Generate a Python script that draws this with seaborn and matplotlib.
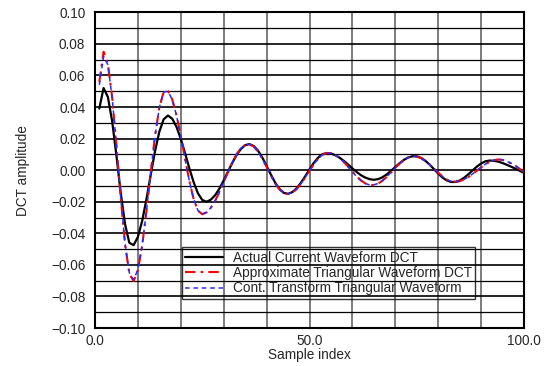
import matplotlib
matplotlib.use("Agg")
import matplotlib.pyplot as plt
import seaborn as sns
import pandas as pd
from matplotlib.ticker import MultipleLocator

# ---------------- data ----------------
sample_index = list(range(1, 101))

actual_current = [
    0.0390, 0.0520, 0.0464, 0.0310, 0.0091, -0.0144, -0.0342, -0.0460, -0.0475, -0.0423,
    -0.0321, -0.0183, -0.0028, 0.0121, 0.0244, 0.0322, 0.0346, 0.0326, 0.0274, 0.0198,
    0.0107, 0.0011, -0.0077, -0.0147, -0.0189, -0.0200, -0.0187, -0.0159, -0.0117, -0.0065,
    -0.0009, 0.0046, 0.0096, 0.0134, 0.0158, 0.0165, 0.0153, 0.0124, 0.0080, 0.0027,
    -0.0028, -0.0079, -0.0119, -0.0144, -0.0150, -0.0139, -0.0115, -0.0080, -0.0039, 0.0005,
    0.0046, 0.0079, 0.0101, 0.0108, 0.0105, 0.0095, 0.0079, 0.0059, 0.0036, 0.0011,
    -0.0012, -0.0032, -0.0047, -0.0057, -0.0061, -0.0057, -0.0045, -0.0027, -0.0004, 0.0020,
    0.0044, 0.0065, 0.0080, 0.0088, 0.0088, 0.0078, 0.0060, 0.0035, 0.0007, -0.0022,
    -0.0047, -0.0065, -0.0075, -0.0075, -0.0066, -0.0049, -0.0027, -0.0002, 0.0022, 0.0042,
    0.0056, 0.0061, 0.0059, 0.0054, 0.0045, 0.0034, 0.0022, 0.0009, -0.0004, -0.0017,
]

approx_triangular = [
    0.0560, 0.0750, 0.0674, 0.0461, 0.0156, -0.0177, -0.0468, -0.0656, -0.0703, -0.0634,
    -0.0477, -0.0258, -0.0012, 0.0219, 0.0398, 0.0495, 0.0501, 0.0448, 0.0348, 0.0216,
    0.0070, -0.0070, -0.0184, -0.0257, -0.0279, -0.0268, -0.0239, -0.0195, -0.0139, -0.0076,
    -0.0012, 0.0048, 0.0100, 0.0138, 0.0160, 0.0164, 0.0149, 0.0118, 0.0073, 0.0020,
    -0.0034, -0.0084, -0.0122, -0.0146, -0.0152, -0.0142, -0.0120, -0.0087, -0.0047, -0.0004,
    0.0037, 0.0072, 0.0097, 0.0109, 0.0108, 0.0098, 0.0078, 0.0052, 0.0022, -0.0010,
    -0.0040, -0.0065, -0.0084, -0.0094, -0.0094, -0.0085, -0.0067, -0.0043, -0.0015, 0.0014,
    0.0041, 0.0064, 0.0080, 0.0088, 0.0086, 0.0076, 0.0058, 0.0036, 0.0010, -0.0016,
    -0.0040, -0.0059, -0.0071, -0.0074, -0.0070, -0.0060, -0.0045, -0.0025, -0.0004, 0.0017,
    0.0037, 0.0053, 0.0063, 0.0068, 0.0065, 0.0056, 0.0043, 0.0027, 0.0008, -0.0011,
]

cont_transform = [
    0.0540, 0.0720, 0.0668, 0.0458, 0.0155, -0.0176, -0.0465, -0.0650, -0.0695, -0.0630,
    -0.0475, -0.0257, -0.0012, 0.0218, 0.0397, 0.0494, 0.0500, 0.0447, 0.0347, 0.0215,
    0.0069, -0.0070, -0.0184, -0.0256, -0.0278, -0.0267, -0.0238, -0.0194, -0.0138, -0.0075,
    -0.0011, 0.0049, 0.0101, 0.0139, 0.0161, 0.0164, 0.0149, 0.0117, 0.0072, 0.0019,
    -0.0035, -0.0085, -0.0122, -0.0146, -0.0151, -0.0141, -0.0119, -0.0086, -0.0046, -0.0003,
    0.0038, 0.0073, 0.0097, 0.0109, 0.0107, 0.0097, 0.0077, 0.0051, 0.0021, -0.0011,
    -0.0041, -0.0066, -0.0084, -0.0094, -0.0093, -0.0084, -0.0066, -0.0042, -0.0014, 0.0015,
    0.0042, 0.0065, 0.0081, 0.0088, 0.0086, 0.0075, 0.0057, 0.0035, 0.0009, -0.0017,
    -0.0041, -0.0060, -0.0071, -0.0073, -0.0069, -0.0059, -0.0044, -0.0024, -0.0003, 0.0018,
    0.0038, 0.0054, 0.0064, 0.0068, 0.0065, 0.0056, 0.0043, 0.0027, 0.0008, -0.0011,
]

series_labels = [
    "Actual Current Waveform DCT",
    "Approximate Triangular Waveform DCT",
    "Cont. Transform Triangular Waveform",
]
x_ticks = [0, 50, 100]
x_tick_labels = ["0.0", "50.0", "100.0"]
y_ticks = [-0.10, -0.08, -0.06, -0.04, -0.02, 0.00, 0.02, 0.04, 0.06, 0.08, 0.10]
y_tick_labels = ["\u22120.10", "\u22120.08", "\u22120.06", "\u22120.04", "\u22120.02",
                 "0.00", "0.02", "0.04", "0.06", "0.08", "0.10"]

# ---------------- styling ----------------
sns.set_theme(style="white")
plt.rcParams["font.family"] = ["Liberation Sans", "DejaVu Sans"]
FS = 9.8

W, H = 557, 366
fig = plt.figure(figsize=(W / 100, H / 100), dpi=100)
L, R, T, B = 95, 524, 12.3, 328
ax = fig.add_axes([L / W, 1 - B / H, (R - L) / W, (B - T) / H])

sns.lineplot(x=sample_index, y=actual_current, ax=ax, color="black", linewidth=1.6,
             label=series_labels[0], estimator=None, sort=False, zorder=3)
sns.lineplot(x=sample_index, y=approx_triangular, ax=ax, color="#ff0000", linewidth=1.5,
             linestyle=(0, (5, 2.5, 1.2, 2.5)), label=series_labels[1],
             estimator=None, sort=False, zorder=4)
sns.lineplot(x=sample_index, y=cont_transform, ax=ax, color="#2b2bff", linewidth=1.1,
             linestyle=(0, (3, 2.5)), label=series_labels[2],
             estimator=None, sort=False, zorder=5)

ax.set_xlim(0, 100)
ax.set_ylim(-0.10, 0.10)
ax.set_xticks(x_ticks)
ax.set_xticklabels(x_tick_labels, fontsize=FS)
ax.set_yticks(y_ticks)
ax.set_yticklabels(y_tick_labels, fontsize=FS)
ax.xaxis.set_minor_locator(MultipleLocator(10))
ax.yaxis.set_minor_locator(MultipleLocator(0.01))
ax.tick_params(which="both", length=0)
ax.tick_params(axis="y", pad=7)
ax.tick_params(axis="x", pad=4)

ax.set_axisbelow(True)
ax.grid(which="both", axis="x", color="#666666", linewidth=1.2)
ax.grid(which="minor", axis="y", color="#000000", linewidth=0.9)
ax.grid(which="major", axis="y", color="#000000", linewidth=1.2)

for s in ax.spines.values():
    s.set_color("black")
    s.set_linewidth(1.5)
    s.set_visible(True)

ax.set_xlabel("Sample index", fontsize=FS)
ax.set_ylabel("DCT amplitude", fontsize=FS)
ax.xaxis.set_label_coords(0.5, (B - 348) / (B - T))
ax.yaxis.set_label_coords((30 - L) / (R - L), 0.5)

leg = ax.legend(loc="upper left", bbox_to_anchor=((181.7 - L) / (R - L), (B - 247.3) / (B - T)),
                borderaxespad=0, fontsize=FS, frameon=True, fancybox=False,
                handlelength=2.8, handletextpad=0.7, labelspacing=0.1, borderpad=0.25)
frame = leg.get_frame()
frame.set_facecolor("none")
frame.set_edgecolor("black")
frame.set_linewidth(1.0)

fig.savefig("out.png", dpi=100)
